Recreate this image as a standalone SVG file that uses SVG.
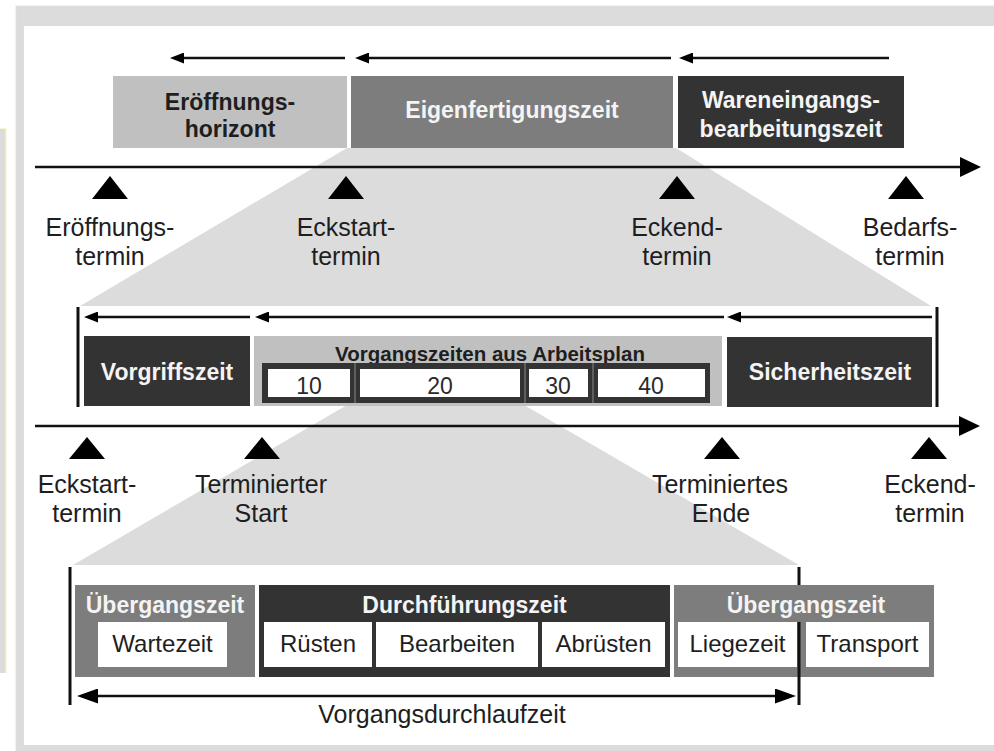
<svg xmlns="http://www.w3.org/2000/svg" width="994" height="751" viewBox="0 0 994 751">
<style>
text{font-family:"Liberation Sans",Arial,sans-serif;text-anchor:middle}
.lbl{font-size:25px;fill:#1e1e1e}
.bw{font-size:23px;font-weight:bold;fill:#f4f4f4}
.bd{font-size:23px;font-weight:bold;fill:#1e1e1e}
.cell{font-size:24px;fill:#1e1e1e}
.num{font-size:23px;fill:#2a2a2a}
.ln{stroke:#111;stroke-width:2.5;fill:none}
.bar{stroke:#111;stroke-width:3;fill:none}
.tri{fill:#000}
.dark{fill:#333}
.mid{fill:#7d7d7d}
.light{fill:#c0c0c0}
.white{fill:#fff}
.trap{fill:#dcdcdc}
</style>
<defs>
<marker id="hs" markerUnits="userSpaceOnUse" markerWidth="14" markerHeight="11" refX="0" refY="5.5" orient="auto"><path d="M0,0 L14,5.5 L0,11 z" fill="#000"/></marker>
<marker id="hb" markerUnits="userSpaceOnUse" markerWidth="21" markerHeight="20" refX="0" refY="10" orient="auto"><path d="M0,0 L21,10 L0,20 z" fill="#000"/></marker>
<marker id="hm" markerUnits="userSpaceOnUse" markerWidth="21" markerHeight="15" refX="0" refY="7.5" orient="auto-start-reverse"><path d="M0,0 L21,7.5 L0,15 z" fill="#000"/></marker>
</defs>

<!-- background frame -->
<g id="frame">
<rect x="0" y="128" width="6" height="545" fill="#dcdcdc"/>
<path d="M0,128.5 H6 V673" stroke="#fbf6c8" stroke-width="1.2" fill="none"/>
<rect x="16" y="6" width="978" height="745" fill="#dcdcdc"/>
<path d="M15.5,751 V5.5 H994" stroke="#fbf6c8" stroke-width="1.2" fill="none"/>
<rect x="24" y="26" width="970" height="719" fill="#fff"/>
</g>

<!-- zoom trapezoids -->
<g id="zoom">
<polygon class="trap" points="347,148 676,148 931,306 80,306"/>
<polygon class="trap" points="347,405 524,405 799,565 73,565"/>
</g>

<!-- top level -->
<g id="eroeffnungshorizont">
<rect class="light" x="113" y="76" width="234" height="72"/>
<text class="bd" x="230" y="110">Eröffnungs-</text>
<text class="bd" x="230" y="137">horizont</text>
</g>
<g id="eigenfertigungszeit">
<rect class="mid" x="351" y="76" width="322" height="72"/>
<text class="bw" x="512" y="118">Eigenfertigungszeit</text>
</g>
<g id="wareneingang">
<rect class="dark" x="678" y="76" width="226" height="72"/>
<text class="bw" x="791" y="108">Wareneingangs-</text>
<text class="bw" x="791" y="137">bearbeitungszeit</text>
</g>

<g id="termine1">
<polygon class="tri" points="92,199 110,176 128,199"/>
<polygon class="tri" points="328,199 346,176 364,199"/>
<polygon class="tri" points="659,199 677,176 695,199"/>
<polygon class="tri" points="888,199 906,176 924,199"/>
<text class="lbl" x="110" y="236">Eröffnungs-</text>
<text class="lbl" x="110" y="265">termin</text>
<text class="lbl" x="346" y="236">Eckstart-</text>
<text class="lbl" x="346" y="265">termin</text>
<text class="lbl" x="677" y="236">Eckend-</text>
<text class="lbl" x="677" y="265">termin</text>
<text class="lbl" x="910" y="236">Bedarfs-</text>
<text class="lbl" x="910" y="265">termin</text>
</g>

<!-- middle level -->
<g id="vorgriffszeit">
<rect class="dark" x="84" y="336" width="166" height="70"/>
<text class="bw" x="167" y="380">Vorgriffszeit</text>
</g>
<g id="vorgangszeiten">
<rect class="light" x="254" y="336" width="468" height="70"/>
<text class="bd" x="490" y="361" style="font-size:20.5px">Vorgangszeiten aus Arbeitsplan</text>
<rect class="dark" x="262" y="363" width="448" height="40"/>
<rect class="white" x="268" y="369" width="82" height="28"/>
<rect class="white" x="360" y="369" width="160" height="28"/>
<rect class="white" x="529" y="369" width="59" height="28"/>
<rect class="white" x="598" y="369" width="107" height="28"/>
<path d="M355,363 V403 M525,363 V403 M593,363 V403" stroke="#8a8a8a" stroke-width="1"/>
<text class="num" x="309" y="394">10</text>
<text class="num" x="440" y="394">20</text>
<text class="num" x="558" y="394">30</text>
<text class="num" x="651" y="394">40</text>
</g>
<g id="sicherheitszeit">
<rect class="dark" x="727" y="337" width="205" height="70"/>
<text class="bw" x="830" y="380">Sicherheitszeit</text>
</g>

<g id="termine2">
<polygon class="tri" points="69,459 87,437 105,459"/>
<polygon class="tri" points="244,459 262,437 280,459"/>
<polygon class="tri" points="704,459 722,437 740,459"/>
<polygon class="tri" points="911,459 929,437 947,459"/>
<text class="lbl" x="87" y="493">Eckstart-</text>
<text class="lbl" x="87" y="522">termin</text>
<text class="lbl" x="261" y="493">Terminierter</text>
<text class="lbl" x="261" y="522">Start</text>
<text class="lbl" x="720" y="493">Terminiertes</text>
<text class="lbl" x="721" y="522">Ende</text>
<text class="lbl" x="930" y="493">Eckend-</text>
<text class="lbl" x="930" y="522">termin</text>
</g>

<!-- bottom level -->
<g id="uebergangszeit1">
<rect class="mid" x="75" y="585" width="180" height="92"/>
<text class="bw" x="165" y="613">Übergangszeit</text>
<rect class="white" x="98" y="622" width="129" height="45"/>
<text class="cell" x="162.5" y="652">Wartezeit</text>
</g>
<g id="durchfuehrungszeit">
<rect class="dark" x="259" y="585" width="411" height="92"/>
<text class="bw" x="464.5" y="613">Durchführungszeit</text>
<rect class="white" x="264" y="622" width="108" height="45"/>
<rect class="white" x="376" y="622" width="162" height="45"/>
<rect class="white" x="542" y="622" width="123" height="45"/>
<text class="cell" x="318" y="652">Rüsten</text>
<text class="cell" x="457" y="652">Bearbeiten</text>
<text class="cell" x="603.5" y="652">Abrüsten</text>
</g>
<g id="uebergangszeit2">
<rect class="mid" x="674" y="585" width="260" height="92"/>
<text class="bw" x="806" y="613">Übergangszeit</text>
<rect class="white" x="678" y="622" width="119" height="45"/>
<rect class="white" x="806" y="622" width="123" height="45"/>
<text class="cell" x="737.5" y="652">Liegezeit</text>
<text class="cell" x="867.5" y="652">Transport</text>
</g>

<!-- connectors / axes -->
<g id="connectors">
<path class="ln" d="M345,58 H184" marker-end="url(#hs)"/>
<path class="ln" d="M671,58 H369" marker-end="url(#hs)"/>
<path class="ln" d="M889,58 H693" marker-end="url(#hs)"/>
<path class="ln" d="M35,167 H960" marker-end="url(#hb)"/>

<path class="bar" d="M78,307 V407"/>
<path class="bar" d="M937,307 V407"/>
<path class="ln" d="M250,317 H98" marker-end="url(#hs)"/>
<path class="ln" d="M724,317 H269" marker-end="url(#hs)"/>
<path class="ln" d="M932,317 H741" marker-end="url(#hs)"/>
<path class="ln" d="M35,426 H959" marker-end="url(#hb)"/>

<path class="bar" d="M70,567 V705"/>
<path class="bar" d="M799,567 V585 M799,622 V705"/>
<path class="ln" d="M98,696 H775" marker-start="url(#hm)" marker-end="url(#hm)"/>
</g>
<text class="lbl" x="442" y="723">Vorgangsdurchlaufzeit</text>
</svg>
